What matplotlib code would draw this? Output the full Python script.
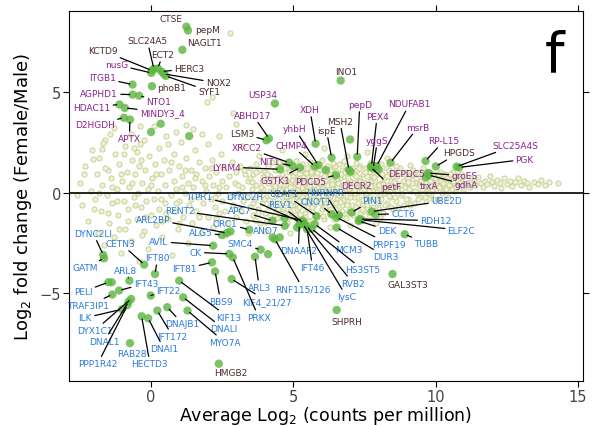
import numpy as np
import matplotlib
matplotlib.use('Agg')
import matplotlib.pyplot as plt

# background genes (average log2 cpm, log2 fold change)
bg_left = [(-2.5,0.5),(-2.4,-0.6),(-2.3,1.3),(-2.2,-1.4),(-2.1,0.1),(-2.05,2.1),(-1.95,-0.3),(-1.9,0.9),
    (-1.85,-2.0),(-1.8,1.7),(-1.75,-0.9),(-1.7,0.4),(-1.65,-2.6),(-1.6,2.6),(-1.55,-0.1),(-1.5,1.1),
    (-1.45,-1.5),(-1.4,0.7),(-1.35,-0.5),(-1.3,3.2),(-1.3,-2.2),(-1.25,1.9),(-1.2,0.2),(-1.15,-1.1),
    (-1.1,1.4),(-1.05,-3.0),(-1.0,0.6),(-0.95,-0.4),(-0.9,2.3),(-0.9,-1.8),(-0.85,1.0),(-0.8,-0.8),
    (-0.75,0.3),(-0.7,2.9),(-0.7,-2.4),(-0.65,1.6),(-0.6,-0.2),(-0.55,0.9),(-0.5,-1.3),(-0.5,2.0),
    (-0.45,0.0),(-0.4,-3.4),(-0.4,1.3),(-0.35,-0.7),(-0.3,0.5),(-0.25,2.6),(-0.25,-1.9),(-0.2,1.1),
    (-0.15,-0.4),(-0.1,0.2),(-0.1,-2.8),(-0.05,1.8),(0.0,-1.1),(0.05,0.7),(0.1,-0.3),(0.1,3.3),
    (0.15,1.4),(0.2,-1.6),(0.25,0.1),(0.3,2.2),(0.3,-0.8),(0.35,0.9),(0.4,-2.2),(0.45,1.6),(0.5,-0.5),
    (0.5,0.4),(0.55,2.8),(0.6,-1.3),(0.65,1.1),(0.7,-0.1),(0.75,-3.1),(0.8,0.6),(0.8,1.9),(0.85,-0.9),
    (0.9,0.2),(0.95,-1.8),(1.0,1.3),(1.0,-0.4),(1.05,2.5),(1.1,0.8),(1.15,-1.2),(1.2,0.0),(1.25,1.7),
    (1.3,-2.5),(1.3,0.5),(1.35,-0.6),(1.4,1.1),(1.45,-1.5),(1.5,0.3),(1.55,2.1),(1.6,-0.9),(1.6,0.9),
    (1.65,-0.2),(1.7,1.5),(1.75,-2.0),(1.8,0.6),(1.85,-0.5),(1.9,1.2),(1.95,0.1),(2.0,-1.2),(2.0,2.4),
    (2.05,0.8),(2.1,-0.3),(2.15,1.6),(2.2,-1.7),(2.2,0.4),(2.25,-0.7),(2.3,1.0),(2.35,0.0),(2.4,-1.0),
    (2.45,1.9),(2.5,0.6),(2.5,-0.4),
    (2.14,4.74),(1.96,4.51),(2.9,3.97),(3.01,3.39),(1.24,3.36),(1.49,3.14),(2.78,7.93),(-1.43,2.89),
    (-1.67,2.48),(-0.38,3.31),(-0.38,2.40),(-1.72,2.15),(-2.02,1.65),
    (-2.6,-0.1),(-2.35,0.9),(-2.0,-0.8),(-1.8,0.0),(-1.6,1.2),(-1.5,-1.0),(-1.35,0.3),(-1.2,-0.4),
    (-1.05,0.9),(-0.95,1.9),(-0.8,-1.4),(-0.65,0.5),(-0.55,-0.6),(-0.35,1.6),(-0.2,-1.2),(0.0,0.4),
    (0.2,0.9),(0.35,-0.3),(0.55,-1.0),(0.7,1.5),(0.9,-0.5),(1.1,0.3),(1.2,1.1),(1.4,-0.3),(1.55,0.7),
    (1.7,-1.2),(1.9,0.4),(2.1,1.2),(2.25,-0.2),(2.4,0.3),(2.3,-1.3),(1.0,-1.5),(0.4,-1.4),(-0.3,-2.1),
    (-1.1,-1.8),(0.6,2.4),(-0.6,2.2),(1.8,2.9),(0.9,3.0),(2.4,2.8)]

bg_core = [(2.55,1.2),(2.6,-0.9),(2.65,0.3),(2.7,-1.5),(2.75,0.8),(2.8,-0.2),(2.85,1.5),(2.9,-0.6),
    (2.95,0.5),(3.0,-1.2),(3.0,1.0),(3.05,0.0),(3.1,-0.8),(3.15,1.3),(3.2,0.3),(3.25,-0.4),(3.3,0.9),
    (3.35,-1.4),(3.4,0.6),(3.45,-0.1),(3.5,1.2),(3.5,-0.7),
    (3.55,0.2),(3.6,-1.1),(3.6,0.9),(3.65,-0.3),(3.7,1.4),(3.7,0.4),(3.75,-0.8),(3.8,0.0),(3.8,1.1),
    (3.85,-1.5),(3.9,0.6),(3.9,-0.5),(3.95,0.2),(4.0,1.0),(4.0,-1.0),(4.05,-0.2),(4.1,0.5),(4.1,1.3),
    (4.15,-0.7),(4.2,0.1),(4.2,0.8),(4.25,-1.3),(4.3,-0.4),(4.3,0.4),(4.35,1.1),(4.4,-0.1),(4.4,-0.9),
    (4.45,0.7),(4.5,0.2),(4.5,-0.5),(4.5,1.5),
    (4.55,-1.2),(4.6,0.9),(4.6,-0.2),(4.65,0.4),(4.65,-0.8),(4.7,1.2),(4.7,0.0),(4.75,-0.5),(4.75,0.6),
    (4.8,-1.5),(4.8,0.2),(4.85,1.0),(4.85,-0.3),(4.9,-0.9),(4.9,0.5),(4.95,0.0),(5.0,1.3),(5.0,-0.6),
    (5.0,0.3),(5.05,-1.1),(5.05,0.8),(5.1,-0.2),(5.1,0.5),(5.15,1.1),(5.15,-0.8),(5.2,0.1),(5.2,-0.4),
    (5.25,0.7),(5.25,-1.3),(5.3,0.3),(5.3,1.4),(5.35,-0.6),(5.35,0.0),(5.4,0.9),(5.4,-1.0),(5.45,0.4),
    (5.45,-0.2),(5.5,1.2),(5.5,-0.7),(5.5,0.1),(5.55,0.6),(5.55,-1.4),(5.6,-0.3),(5.6,0.9),(5.65,0.2),
    (5.65,-0.9),(5.7,1.3),(5.7,-0.1),(5.75,0.5),(5.75,-0.6),(5.8,0.0),(5.8,1.0),(5.85,-1.2),(5.85,0.3),
    (5.9,0.7),(5.9,-0.4),(5.95,1.4),(5.95,0.1),
    (6.0,-0.8),(6.0,0.5),(6.05,-0.1),(6.05,1.1),(6.1,0.3),(6.1,-1.3),(6.15,0.8),(6.15,-0.5),(6.2,0.0),
    (6.2,1.3),(6.25,0.5),(6.25,-0.9),(6.3,-0.2),(6.3,0.9),(6.35,0.2),(6.35,-1.1),(6.4,1.2),(6.4,-0.5),
    (6.45,0.6),(6.45,0.0),(6.5,-0.8),(6.5,1.0),(6.55,0.3),(6.55,-0.3),(6.6,1.4),(6.6,-1.2),(6.65,0.7),
    (6.65,0.1),(6.7,-0.6),(6.7,1.1),(6.75,0.4),(6.75,-0.1),(6.8,-1.0),(6.8,0.8),(6.85,0.2),(6.85,1.3),
    (6.9,-0.4),(6.9,0.5),(6.95,-0.9),(6.95,1.0),(7.0,0.0),(7.0,0.6),(7.05,-0.6),(7.05,1.2),(7.1,0.3),
    (7.1,-1.1),(7.15,0.9),(7.15,-0.2),(7.2,0.5),(7.2,-0.7),(7.25,1.1),(7.25,0.1),(7.3,-0.4),(7.3,0.7),
    (7.35,-1.0),(7.35,1.3),(7.4,0.3),(7.4,-0.1),(7.45,0.9),(7.45,-0.6),
    (7.5,0.5),(7.5,-0.9),(7.55,1.2),(7.55,0.0),(7.6,-0.4),(7.6,0.8),(7.65,0.3),(7.65,-1.2),(7.7,1.0),
    (7.7,-0.2),(7.75,0.6),(7.8,-0.7),(7.8,0.1),(7.85,1.3),(7.85,0.4),(7.9,-0.3),(7.95,0.9),(8.0,0.2),
    (8.0,-0.8),(8.05,1.1),(8.1,0.5),(8.1,-0.1),(8.15,-1.0),(8.2,0.7),(8.2,0.0),(8.25,1.2),(8.3,-0.5),
    (8.3,0.4),(8.35,0.9),(8.4,-0.2),(8.45,0.6),(8.5,-0.8),(8.5,1.0),(8.55,0.2),(8.6,-0.4),(8.65,0.8),
    (8.7,0.3),(8.75,1.2),(8.8,-0.1),(8.85,0.6),(8.9,-0.6),(8.95,1.0),
    (9.0,0.3),(9.05,-0.3),(9.1,0.8),(9.15,0.1),(9.2,1.1),(9.25,-0.5),(9.3,0.5),(9.35,0.0),(9.4,0.9),
    (9.45,-0.2),(9.5,0.6),(9.55,1.2),(9.6,0.2),(9.65,-0.4),(9.7,0.7),(9.75,0.3),(9.8,1.0),(9.85,-0.1),
    (9.9,0.5),(9.95,0.9),(10.0,0.2),(10.05,0.6),(10.1,-0.3),(10.15,1.0),(10.2,0.4),(10.25,0.7),
    (10.3,0.1),(10.35,0.9),(10.4,0.5),(10.45,-0.2),(10.5,0.7),(10.55,0.3),(10.6,1.0),(10.65,0.5),
    (10.7,0.1),(10.75,0.8),(10.8,0.4),(10.9,0.6),(10.95,0.2),
    (3.8,1.8),(4.6,2.1),(5.4,1.9),(6.1,2.2),(6.9,1.8),(7.6,2.0),(8.3,1.7),(3.2,2.3),(2.6,-2.1),
    (3.4,-2.0),(4.0,-1.9),(4.9,-2.0),(5.6,-1.8),(6.3,-1.7),(7.0,-1.6),(7.9,-1.5)]

bg_core2 = [(3.08,0.4),(3.18,-0.9),(3.28,1.1),(3.38,-0.2),(3.48,0.7),(3.58,-0.5),(3.68,1.0),(3.78,-1.0),
    (3.88,0.3),(3.98,-0.3),(4.08,0.9),(4.18,-1.1),(4.28,0.6),(4.38,0.2),(4.48,-0.8),(4.58,1.1),(4.62,0.1),
    (4.68,-1.0),(4.72,0.7),(4.78,-0.2),(4.82,1.4),(4.88,0.3),(4.92,-0.6),(4.98,0.8),(5.02,-0.1),
    (5.08,1.0),(5.12,-1.3),(5.18,0.4),(5.22,-0.7),(5.28,1.1),(5.32,-0.2),(5.38,0.5),(5.42,-1.2),
    (5.48,0.8),(5.52,-0.4),(5.58,0.3),(5.62,1.0),(5.68,-0.7),(5.72,0.4),(5.78,-1.1),(5.82,0.8),
    (5.88,-0.2),(5.92,1.1),(5.98,-0.5),(6.02,0.2),(6.08,0.8),(6.12,-0.7),(6.18,0.4),(6.22,-0.3),
    (6.28,1.1),(6.32,-0.8),(6.38,0.6),(6.42,0.0),(6.48,1.3),(6.52,-0.5),(6.58,0.5),(6.62,-0.1),
    (6.68,0.9),(6.72,-0.9),(6.78,0.3),(6.82,1.0),(6.88,-0.6),(6.92,0.7),(6.98,-0.2),(7.02,1.0),
    (7.08,-0.9),(7.12,0.5),(7.18,0.0),(7.22,0.8),(7.28,-0.5),(7.32,1.2),(7.38,0.4),(7.42,-0.8),
    (7.48,0.2),(7.52,1.0),(7.58,-0.6),(7.62,0.5),(7.68,0.1),(7.72,-0.9),(7.78,0.8),(7.82,-0.3),
    (7.88,0.6),(7.92,1.1),(7.98,-0.5),(8.02,0.4),(8.08,-0.3),(8.12,0.9),(8.18,0.2),(8.22,-0.6),
    (8.28,0.8),(8.32,0.0),(8.38,1.1),(8.42,-0.7),(8.48,0.3),(8.52,0.8),(8.58,-0.2),(8.62,0.5),
    (8.68,-0.7),(8.72,1.0),(8.78,0.4),(8.82,0.0),(8.88,0.9),(8.92,0.3),(8.98,-0.3),(9.02,0.7),
    (9.08,0.2),(9.12,-0.6),(9.18,0.5),(9.22,0.9),(9.28,0.1),(9.32,0.7),(9.38,-0.3),(9.42,0.4),
    (9.48,1.0),(9.52,0.2),(9.58,0.7),(9.62,-0.2),(9.68,0.5),(9.72,1.0),(9.78,0.0),(9.82,0.6),
    (9.88,0.2),(9.92,-0.3),(9.98,0.7),(10.02,0.4),(10.08,0.9),(10.12,0.3),(10.18,0.6),(10.22,0.0),
    (10.28,0.5),(10.32,0.8),(10.38,0.2),(10.42,0.7),(10.48,0.4),(10.52,0.9),(10.58,0.2),(10.62,0.6),
    (10.68,0.8),(10.72,0.3),(10.78,0.6),(10.85,0.5),(10.88,0.9),(10.92,0.35),
    (4.55,0.45),(4.95,0.65),(5.35,0.75),(5.75,0.15),(6.15,0.1),(6.55,0.7),(6.95,0.25),(7.35,0.6),
    (7.75,0.35),(8.15,0.45),(8.55,0.55),(5.15,0.15),(5.55,0.35),(5.95,0.55),(6.35,0.45),(6.75,-0.35),
    (7.15,0.15),(7.55,-0.25),(7.95,0.05),(8.35,-0.15),(4.75,-0.15),(5.05,0.05),(5.45,0.95),(5.85,0.95),
    (6.25,0.75),(6.65,-0.45),(7.05,0.35),(7.45,0.55),(7.85,0.75),(8.25,0.25),(8.65,0.15),(9.05,0.55),
    (9.45,0.35),(9.85,0.35),(4.35,0.35),(3.95,0.75),(3.55,0.55),(4.15,-0.35),
    (4.45,-1.25),(4.85,-1.2),(5.25,-1.05),(5.65,-1.35),(6.05,-1.15),(6.45,-1.3),(6.85,-1.25),
    (7.25,-1.4),(7.65,-0.95),(8.05,-1.25),(3.65,-1.35),(4.05,-1.45),
    (4.25,1.5),(4.65,1.45),(5.1,1.55),(5.6,1.5),(6.0,1.6),(6.4,1.45),(6.8,1.55),(7.2,1.45),(7.7,1.45),
    (8.1,1.4),(8.6,1.3),(9.1,1.35)]

bg_tail = [(11.0,0.8),(11.1,0.5),(11.2,0.3),(11.25,0.7),(11.35,0.6),(11.4,0.4),(11.5,0.75),(11.6,0.5),
    (11.65,0.3),(11.75,0.6),(11.8,0.45),(11.9,0.8),(12.0,0.55),(12.05,0.35),(12.15,0.65),(12.25,0.5),
    (12.3,0.25),(12.4,0.7),(12.5,0.45),(12.6,0.6),(12.7,0.35),(12.8,0.55),(12.9,0.7),(13.0,0.4),
    (13.1,0.6),(13.2,0.5),(13.3,0.3),(13.45,0.55),(13.6,0.45),(13.7,0.65),(13.85,0.4),(14.0,0.55),
    (14.3,0.5)]

# highlighted genes: name -> (A, M)
up_brown = {'CTSE':(1.25,8.25),'pepM':(1.31,8.06),'NAGLT1':(1.11,7.10),'SLC24A5':(0.11,6.15),
    'KCTD9':(0.04,6.07),'ECT2':(0.25,6.17),'HERC3':(0.38,6.02),'NOX2':(0.46,5.90),'SYF1':(0.53,5.80),
    'phoB1':(0.04,5.29),'INO1':(6.67,5.57),'LSM3':(4.06,2.60),'ispE':(6.35,1.74),'MSH2':(6.96,1.13),
    'HPGDS':(10.01,1.30)}
up_purple = {'nusG':(0.02,5.95),'ITGB1':(-0.64,5.37),'AGPHD1':(-0.64,4.87),'NTO1':(-0.41,4.82),
    'HDAC11':(-1.10,4.38),'MINDY3_4':(-0.91,4.21),'D2HGDH':(-0.94,3.72),'APTX':(-0.73,3.63),
    'USP34':(4.36,4.43),'ABHD17':(4.15,2.69),'XDH':(5.79,2.43),'yhbH':(5.88,1.37),'CHMP4':(5.76,1.31),
    'pepD':(7.25,1.78),'PEX4':(7.75,1.32),'NDUFAB1':(7.93,1.32),'yggS':(7.81,1.21),'msrB':(8.42,1.49),
    'DEPDC5':(7.99,1.14),'DECR2':(7.01,1.04),'petF':(7.73,1.26),'XRCC2':(4.86,1.49),'NIT1':(4.98,1.32),
    'LYRM4':(4.53,1.16),'GSTK1':(5.24,1.24),'PDCD5':(6.50,0.86),'RP-L15':(9.65,1.57),
    'SLC25A4S':(10.74,1.29),'PGK':(10.83,1.25),'groES':(9.74,0.97),'gdhA':(9.76,0.87),'trxA':(9.66,0.77)}
down_brown = {'GAL3ST3':(8.49,-4.05),'SHPRH':(6.53,-5.84),'HMGB2':(2.39,-8.51)}
down_blue = {'ITPR1':(5.34,-1.39),'DYNC2H':(5.24,-1.46),'U2AF1':(5.82,-1.16),'REV1':(5.38,-1.54),
    'HNRNPR':(6.61,-1.13),'CNOT1':(6.35,-1.08),'PIN1':(7.05,-0.99),'UBE2D':(7.76,-0.94),
    'CCT6':(7.90,-1.09),'RDH12':(7.34,-1.32),'ELF2C':(7.41,-1.36),'DEK':(7.31,-1.41),
    'PRPF19':(6.53,-1.24),'DUR3':(6.53,-1.74),'TUBB':(8.92,-2.07),'APC7':(4.28,-1.40),
    'RENT2':(4.71,-1.65),'ORC1':(3.46,-1.85),'ANO7':(4.53,-2.23),'ARL2BP':(2.67,-2.01),
    'ALG5':(2.50,-2.11),'AVIL':(2.19,-2.64),'CK':(2.76,-3.05),'IFT81':(2.15,-3.47),'SMC4':(3.86,-2.84),
    'DNAAF2':(5.22,-1.59),'IFT46':(5.49,-1.82),'MCM3':(5.76,-1.57),'HS3ST5':(5.65,-1.80),
    'RVB2':(5.47,-1.65),'lysC':(5.35,-1.57),'RNF115/126':(4.36,-2.32),'ARL3':(3.66,-3.19),
    'KIF4_21/27':(2.84,-4.30),'PRKX':(2.88,-3.22),'BBS9':(2.26,-3.92),'KIF13':(1.00,-4.38),
    'DNALI':(1.14,-5.21),'MYO7A':(1.29,-5.87),'DNAJB1':(0.58,-5.70),'IFT172':(0.23,-5.87),
    'DNAI1':(-0.09,-6.25),'HECTD3':(-0.32,-6.15),'RAB28':(-0.73,-7.49),'IFT22':(0.00,-5.12),
    'IFT80':(0.15,-4.05),'CETN3':(-0.23,-3.58),'ARL8':(-0.75,-4.38),'IFT43':(-1.11,-4.87),
    'PELI':(-1.49,-4.46),'TRAF3IP1':(-1.35,-5.07),'ILK':(-1.01,-5.80),'DYX1C1':(-0.69,-5.29),
    'DNAL1':(-0.78,-5.43),'PPP1R42':(-0.82,-5.60),'GATM':(-1.64,-3.27),'DYNC2LI':(-1.67,-3.10)}
# significant genes without a label
sig_x = [0.35, 0.01, 1.35, 7.0, 6.15, -1.37, 4.12, 4.28, 2.80, 4.70, 5.14]
sig_y = [3.42, 3.01, 2.81, 2.64, 1.12, -4.46, -3.06, -2.23, -1.93, -1.27, -1.74]

# label positions (layout only)
label_pos = {'CTSE':(0.71,8.64),'pepM':(1.99,8.10),'NAGLT1':(1.90,7.44),'SLC24A5':(-0.12,7.55),
    'KCTD9':(-1.69,7.06),'ECT2':(0.42,6.86),'nusG':(-1.20,6.36),'HERC3':(1.35,6.16),'NOX2':(2.37,5.45),
    'SYF1':(2.05,5.04),'phoB1':(0.73,5.21),'ITGB1':(-1.69,5.70),'AGPHD1':(-1.81,4.92),'NTO1':(0.29,4.55),
    'HDAC11':(-2.07,4.25),'MINDY3_4':(0.40,4.00),'D2HGDH':(-1.96,3.39),'APTX':(-0.75,2.69),
    'INO1':(6.87,6.03),'USP34':(3.95,4.87),'ABHD17':(3.59,3.85),'LSM3':(3.21,2.96),'XDH':(5.59,4.13),
    'yhbH':(5.06,3.17),'CHMP4':(4.94,2.36),'ispE':(6.17,3.09),'MSH2':(6.64,3.55),'pepD':(7.34,4.38),
    'PEX4':(7.95,3.80),'NDUFAB1':(9.09,4.41),'yggS':(7.96,2.59),'msrB':(9.39,3.26),'DEPDC5':(8.98,0.96),
    'DECR2':(7.22,0.36),'petF':(8.43,0.31),'XRCC2':(3.36,2.23),'NIT1':(4.18,1.57),'LYRM4':(2.66,1.27),
    'GSTK1':(4.39,0.61),'PDCD5':(5.60,0.55),'RP-L15':(10.30,2.59),'HPGDS':(10.82,1.98),
    'SLC25A4S':(12.81,2.36),'PGK':(13.13,1.65),'groES':(11.02,0.83),'gdhA':(11.08,0.38),'trxA':(9.77,0.33),
    'ITPR1':(1.73,-0.21),'DYNC2H':(3.29,-0.20),'U2AF1':(4.67,-0.07),'REV1':(4.53,-0.59),
    'HNRNPR':(6.11,-0.02),'CNOT1':(5.80,-0.42),'PIN1':(7.79,-0.37),'UBE2D':(10.38,-0.40),
    'CCT6':(8.86,-1.04),'RDH12':(10.01,-1.39),'ELF2C':(10.91,-1.87),'DEK':(8.30,-1.87),
    'PRPF19':(8.37,-2.56),'DUR3':(8.25,-3.19),'TUBB':(9.68,-2.53),'GAL3ST3':(9.04,-4.55),
    'SHPRH':(6.87,-6.40),'HMGB2':(2.81,-8.97),'APC7':(3.13,-0.91),'RENT2':(1.02,-0.91),
    'ORC1':(2.62,-1.52),'ANO7':(4.04,-1.90),'ARL2BP':(0.07,-1.32),'ALG5':(1.75,-1.98),'AVIL':(0.29,-2.44),
    'CK':(1.58,-2.97),'IFT81':(1.18,-3.80),'SMC4':(3.14,-2.55),'DNAAF2':(5.18,-2.89),'IFT46':(5.68,-3.72),
    'MCM3':(6.96,-2.81),'HS3ST5':(7.46,-3.85),'RVB2':(7.11,-4.51),'lysC':(6.87,-5.17),
    'RNF115/126':(5.35,-4.79),'ARL3':(3.81,-4.71),'KIF4_21/27':(4.07,-5.40),'PRKX':(3.79,-6.20),
    'BBS9':(2.45,-5.40),'KIF13':(2.72,-6.20),'DNALI':(2.57,-6.78),'MYO7A':(2.60,-7.44),
    'DNAJB1':(1.12,-6.53),'IFT172':(0.77,-7.15),'DNAI1':(0.46,-7.77),'HECTD3':(-0.03,-8.51),
    'RAB28':(-0.67,-7.98),'IFT22':(0.61,-4.87),'IFT80':(0.24,-3.24),'CETN3':(-1.05,-2.53),
    'ARL8':(-0.87,-3.88),'IFT43':(-0.17,-4.51),'PELI':(-2.37,-4.92),'TRAF3IP1':(-2.19,-5.62),
    'ILK':(-2.30,-6.23),'DYX1C1':(-1.97,-6.86),'DNAL1':(-1.64,-7.39),'PPP1R42':(-1.86,-8.51),
    'GATM':(-2.31,-3.75),'DYNC2LI':(-2.02,-2.03)}
no_line = {'CTSE','pepM','NAGLT1','phoB1','INO1','USP34','DEPDC5','DECR2','trxA','GAL3ST3',
           'SHPRH','HMGB2','ANO7','RAB28'}

fig = plt.figure(figsize=(5.97, 4.27), dpi=100)
ax = fig.add_axes([0.1156, 0.1054, 0.861, 0.867])

bg = np.array(bg_left + bg_core + bg_core2 + bg_tail)
ax.scatter(bg[:, 0], bg[:, 1], s=14, facecolor='#eef1d6', edgecolor='#c3cc8c', linewidth=0.6, zorder=1)

ax.axhline(0, color='black', lw=1.2, zorder=2)

groups = [(up_brown, '#4a2a28'), (up_purple, '#8b238b'), (down_brown, '#4a2a28'), (down_blue, '#2a7ae0')]
for genes, col in groups:
    xs = [v[0] for v in genes.values()]
    ys = [v[1] for v in genes.values()]
    ax.scatter(xs, ys, s=36, color='#5cb540', alpha=0.8, edgecolor='none', zorder=3)
ax.scatter(sig_x, sig_y, s=36, color='#5cb540', alpha=0.8, edgecolor='none', zorder=3)

for genes, col in groups:
    for name, (gx, gy) in genes.items():
        lx, ly = label_pos[name]
        if name in no_line:
            ax.text(lx, ly, name, color=col, fontsize=6.5, ha='center', va='center', zorder=5)
        else:
            ax.annotate(name, xy=(gx, gy), xytext=(lx, ly), color=col, fontsize=6.5,
                        ha='center', va='center', zorder=5,
                        arrowprops=dict(arrowstyle='-', color='black', lw=0.9, shrinkA=0, shrinkB=2))

ax.text(0.945, 0.88, 'f', transform=ax.transAxes, fontsize=40, ha='center', va='center')

ax.set_xlim(-2.87, 15.18)
ax.set_ylim(-9.37, 9.04)
ax.set_xticks([0, 5, 10, 15])
ax.set_yticks([-5, 0, 5])
ax.tick_params(direction='out', length=4, pad=1.5, labelsize=10.5, labelcolor='#444444',
               top=True, right=True, labeltop=False, labelright=False)
ax.set_xlabel('Average Log$_2$ (counts per million)', fontsize=12.5, labelpad=0)
ax.set_ylabel('Log$_2$ fold change (Female/Male)', fontsize=13, labelpad=4)

fig.savefig('out.png', dpi=100)
